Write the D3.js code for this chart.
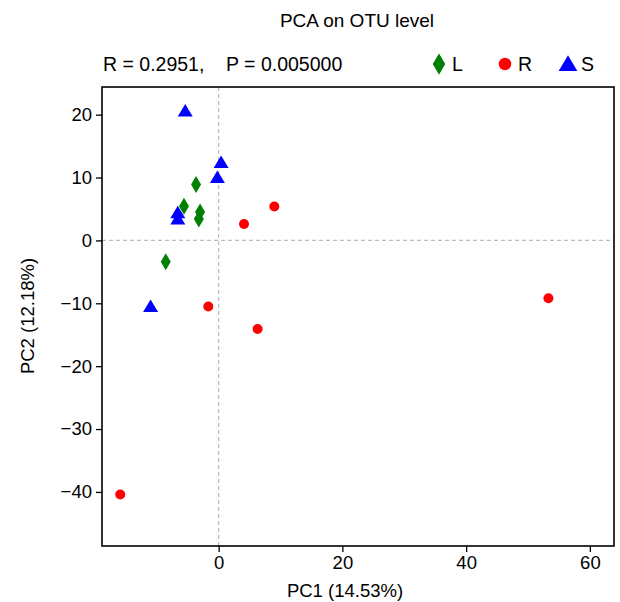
<!DOCTYPE html>
<html><head><meta charset="utf-8">
<script src="https://cdn.jsdelivr.net/npm/d3@7"></script>
<style>body{margin:0;background:#fff}text{font-family:"Liberation Sans",Arial,sans-serif}</style>
</head><body><svg id="c" width="620" height="602"></svg>
<script>
const groups = ["L","R","S"];
const groupColors = ["#008000","#ff0000","#0000ff"];
const L_pc1 = [-3.65,-5.6,-3.0,-3.2,-8.55];
const L_pc2 = [8.9,5.45,4.5,3.4,-3.4];
const R_pc1 = [9.0,4.1,-1.67,6.3,53.3,-15.9];
const R_pc2 = [5.4,2.6,-10.5,-14.1,-9.2,-40.4];
const S_pc1 = [-5.4,0.4,-0.2,-6.6,-6.6,-11.0];
const S_pc2 = [20.6,12.4,10.0,4.4,3.4,-10.5];
const xTicks = [0,20,40,60];
const yTicks = [20,10,0,-10,-20,-30,-40];

const svg = d3.select("#c");
const m = {l:102,r:614,t:87,b:546};
const x = d3.scaleLinear().domain([-18.85,63.9]).range([m.l,m.r]);
const y = d3.scaleLinear().domain([-48.6,24.4]).range([m.b,m.t]);

svg.append("text").attr("x",357).attr("y",27).attr("text-anchor","middle").attr("font-size",19).text("PCA on OTU level");
svg.append("text").attr("x",103).attr("y",71).attr("font-size",19.5).attr("xml:space","preserve").text("R = 0.2951,    P = 0.005000");

// dashed reference lines
svg.append("line").attr("x1",x(0)).attr("x2",x(0)).attr("y1",m.t).attr("y2",m.b).attr("stroke","#bbb").attr("stroke-dasharray","4,3").attr("stroke-width",1.2);
svg.append("line").attr("x1",m.l).attr("x2",m.r).attr("y1",y(0)).attr("y2",y(0)).attr("stroke","#bbb").attr("stroke-dasharray","4,3").attr("stroke-width",1.2);

// axes
const xa = svg.append("g").attr("transform",`translate(0,${m.b})`).call(d3.axisBottom(x).tickValues(xTicks).tickSize(6).tickPadding(4).tickFormat(d3.format("d")));
const ya = svg.append("g").attr("transform",`translate(${m.l},0)`).call(d3.axisLeft(y).tickValues(yTicks).tickSize(6).tickPadding(4).tickFormat(d=>d<0?"\u2212"+Math.abs(d):d));
[xa,ya].forEach(a=>{a.select(".domain").remove();a.selectAll("text").attr("font-size",18.5).attr("fill","#000").attr("font-family","Liberation Sans, Arial");a.selectAll("line").attr("stroke","#000").attr("stroke-width",1.3);});
svg.append("rect").attr("x",m.l).attr("y",m.t).attr("width",m.r-m.l).attr("height",m.b-m.t).attr("fill","none").attr("stroke","#000").attr("stroke-width",1.6);

svg.append("text").attr("x",345).attr("y",597).attr("text-anchor","middle").attr("font-size",18.5).text("PC1 (14.53%)");
svg.append("text").attr("transform","translate(34,316) rotate(-90)").attr("text-anchor","middle").attr("font-size",18.5).text("PC2 (12.18%)");

function marker(g, type, cx, cy, col, s){
  s = s || 1;
  if(type==="L"){
    g.append("path").attr("d",`M${cx},${cy-8.5*s}L${cx+5*s},${cy}L${cx},${cy+8.5*s}L${cx-5*s},${cy}Z`).attr("fill",col);
  } else if(type==="R"){
    g.append("circle").attr("cx",cx).attr("cy",cy).attr("r",5*s).attr("fill",col);
  } else {
    g.append("path").attr("d",`M${cx},${cy-7*s}L${cx+7.5*s},${cy+5.5*s}L${cx-7.5*s},${cy+5.5*s}Z`).attr("fill",col);
  }
}
const data = [[L_pc1,L_pc2],[R_pc1,R_pc2],[S_pc1,S_pc2]];
const pg = svg.append("g");
groups.forEach((gname,i)=>{
  data[i][0].forEach((v,j)=>marker(pg,gname,x(v),y(data[i][1][j]),groupColors[i]));
});

// legend
const lx = [439,505,568];
groups.forEach((gname,i)=>{
  marker(svg,gname,lx[i],64,groupColors[i],1.25);
  svg.append("text").attr("x",lx[i]+13).attr("y",71).attr("font-size",19.5).text(gname);
});
</script></body></html>
